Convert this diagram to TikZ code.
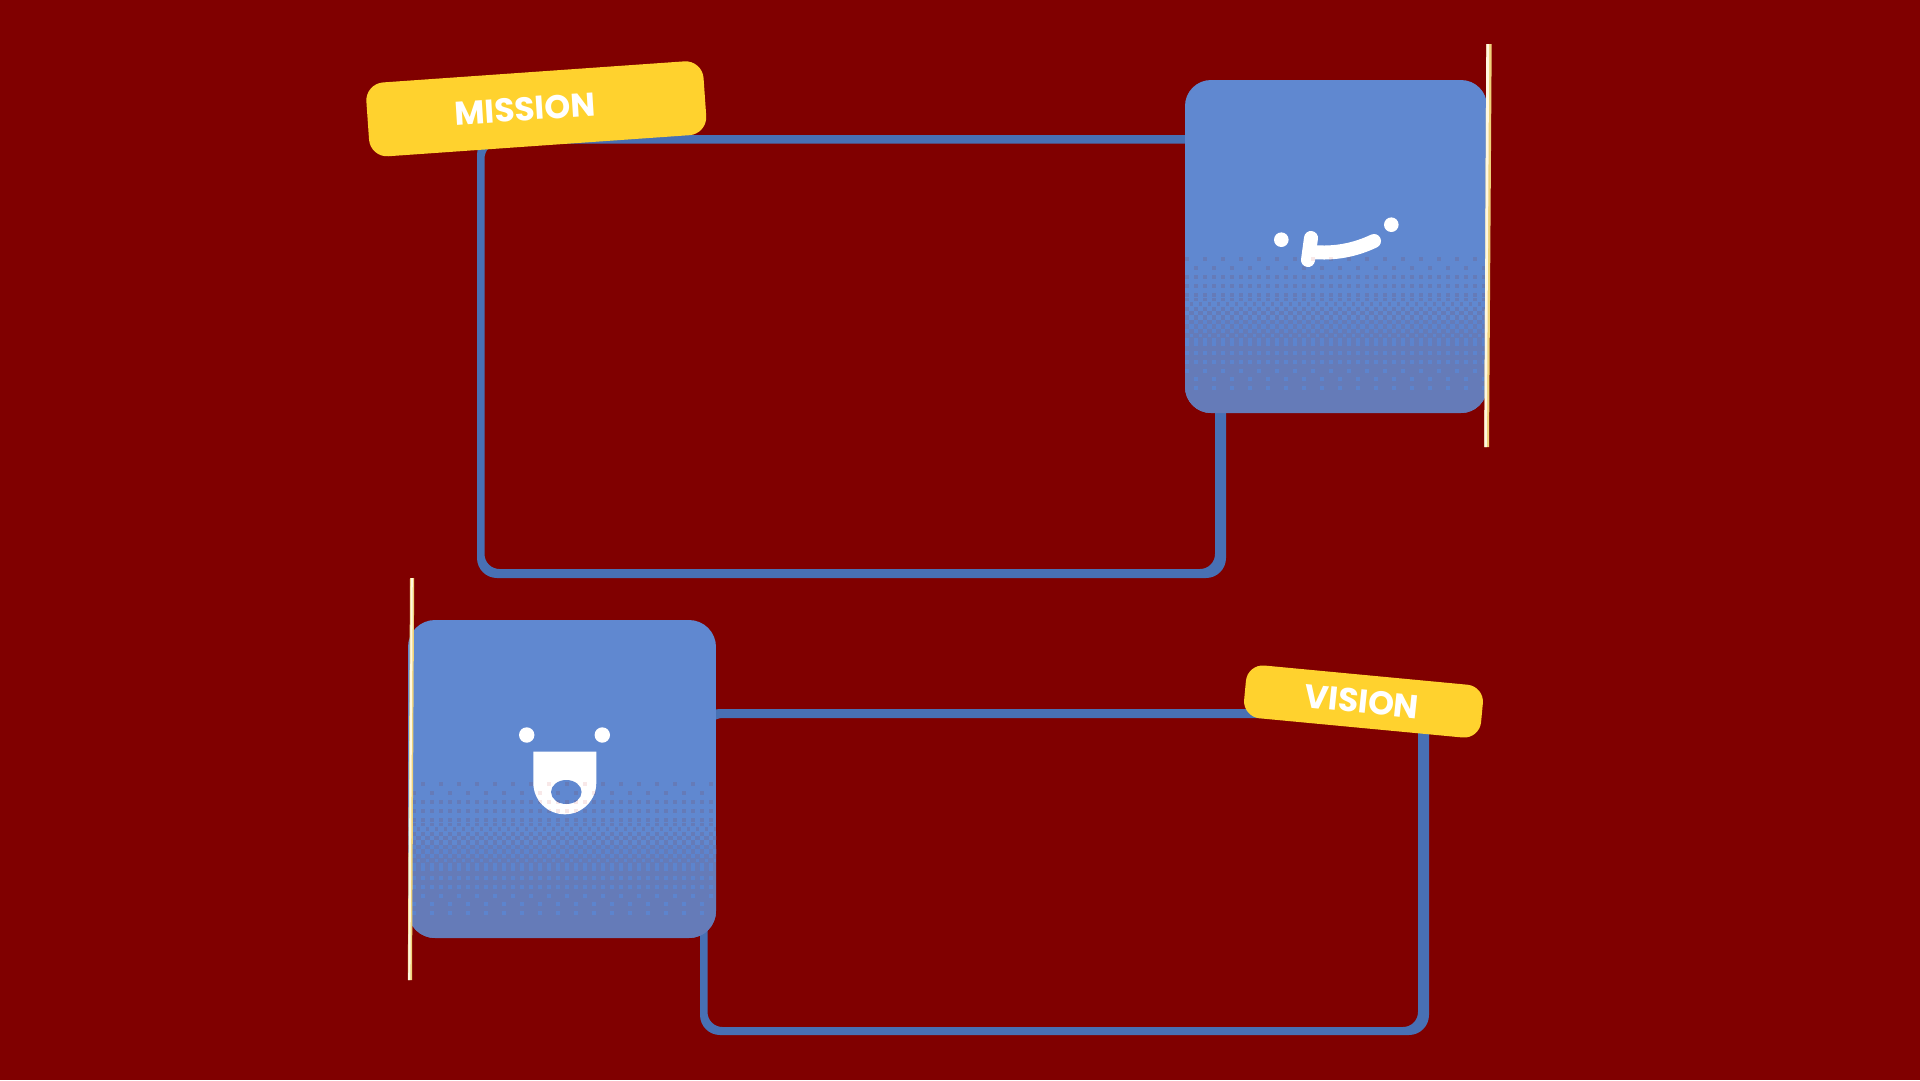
\documentclass[tikz,border=0pt]{standalone}
\usepackage{fontspec}
\setmainfont{Poppins}
\definecolor{bgred}{HTML}{800000}
\definecolor{framecol}{HTML}{4870B4}
\definecolor{lightb}{HTML}{6088D0}
\definecolor{darkb}{HTML}{657BB8}
\definecolor{litedot}{HTML}{5C84CE}
\definecolor{barcol}{HTML}{FFD22E}
\definecolor{facedot}{HTML}{F8E8E8}
\definecolor{lineg}{HTML}{EFD27A}
\definecolor{linew}{HTML}{FFF8E0}
\tikzset{
  frameshape/.style={fill=framecol,even odd rule},
  barshape/.style={fill=barcol,rounded corners=#1,inner sep=0pt,outer sep=0pt},
  barlabel/.style={text=white,font=\bfseries\fontsize{#1}{#1}\selectfont,inner sep=0pt},
  faceshape/.style={fill=white},
}
% sparse rows in the upper part of the halftone
\newcommand{\toprows}[3]{%
  \foreach \r/\st/\ph in {0/18/0,9/18/9,18/9/0,27/9/0,36/9/0}{%
    \foreach \i in {0,...,36}{%
      \fill[#3] ({#1+\ph+\st*\i-2},{#2+\r-2}) rectangle ({#1+\ph+\st*\i+2},{#2+\r+2});
    }%
  }%
}
\newcommand{\halftone}[2]{%
  \toprows{#1}{#2}{darkb}
  % chequered middle, dark dots growing on the light ground
  \foreach \j/\sz in {0/1.7,1/1.85,2/2.0,3/2.15,4/2.25}{%
    \pgfmathsetmacro{\off}{mod(\j,2)*4.5}
    \foreach \i in {0,...,34}{%
      \fill[darkb] ({#1+\off+9*\i-\sz},{#2+40.5+4.5*\j-\sz}) rectangle ({#1+\off+9*\i+\sz},{#2+40.5+4.5*\j+\sz});
    }%
  }%
  % from here on the ground is dark
  \fill[darkb] ({#1-10},{#2+60.75}) rectangle ({#1+330},{#2+180});
  % chequered middle, light dots shrinking on the dark ground
  \foreach \j/\sz in {5/2.25,6/2.15,7/2.0,8/1.85,9/1.7}{%
    \pgfmathsetmacro{\off}{mod(\j+1,2)*4.5}
    \foreach \i in {0,...,34}{%
      \fill[litedot] ({#1+\off+9*\i-\sz},{#2+40.5+4.5*\j-\sz}) rectangle ({#1+\off+9*\i+\sz},{#2+40.5+4.5*\j+\sz});
    }%
  }%
  \foreach \r/\st/\ph in {85/9/0,94/9/0,103/9/0,112/18/0,120/18/9,129/18/9}{%
    \foreach \i in {0,...,36}{%
      \fill[litedot] ({#1+\ph+\st*\i-2},{#2+\r-2}) rectangle ({#1+\ph+\st*\i+2},{#2+\r+2});
    }%
  }%
}
\begin{document}
\begin{tikzpicture}[x=1pt,y=-1pt]
\useasboundingbox (0,0) rectangle (1920,1080);
\fill[bgred] (0,0) rectangle (1920,1080);

% frames
\fill[frameshape] [rounded corners=20pt] (477,135) rectangle (1226,578)
                  [rounded corners=15pt] (484.5,143.5) rectangle (1215,569);
\fill[frameshape] [rounded corners=20pt] (700,709) rectangle (1429,1035)
                  [rounded corners=15pt] (707.5,718) rectangle (1418,1027);

% upper card
\begin{scope}
  \clip[rounded corners=26pt] (1185,80) rectangle (1487,413);
  \fill[lightb] (1185,80) rectangle (1487,413);
  \halftone{1187}{259}
\end{scope}
\fill[faceshape] (1281.3,239.7) circle[radius=7.3];
\fill[faceshape] (1391.3,224.7) circle[radius=7.3];
\draw[white,line width=14pt,line cap=round] (1311,238) -- (1308,260);
\draw[white,line width=14pt,line cap=round] (1312,252) .. controls (1335,254) and (1355,250) .. (1374,241);
\fill[facedot] (1311,257) rectangle (1315,261);
\fill[facedot] (1329,256.5) rectangle (1333,258.5);
% upper gold line
\fill[lineg] (1486.3,44) -- (1491.7,44) -- (1489,447) -- (1484.3,447) -- cycle;
\fill[linew] (1486.3,44) -- (1489.2,44) -- (1486.8,447) -- (1484.3,447) -- cycle;

% lower card
\begin{scope}
  \clip[rounded corners=27pt] (408,620) rectangle (716,938);
  \fill[lightb] (408,620) rectangle (716,938);
  \halftone{405}{784}
\end{scope}
\fill[faceshape] (526.7,735) circle[radius=7.7];
\fill[faceshape] (602.3,735) circle[radius=7.7];
\fill[faceshape] (533.3,751.7) -- (596.3,751.7) -- (596.3,782.8)
   arc[start angle=0,end angle=180,radius=31.5] -- cycle;
\begin{scope}
  \clip (533.3,751.7) -- (596.3,751.7) -- (596.3,782.8)
   arc[start angle=0,end angle=180,radius=31.5] -- cycle;
  \toprows{423}{784}{facedot}
\end{scope}
\begin{scope}
  \clip (566.3,792) ellipse[x radius=15.3,y radius=12];
  \fill[lightb] (540,770) rectangle (590,810);
  \toprows{423}{784}{darkb}
\end{scope}
% lower gold line
\fill[lineg] (410,578) -- (414.2,578) -- (412,980) -- (407.8,980) -- cycle;
\fill[linew] (410.8,578) -- (412.8,578) -- (410.4,980) -- (408.2,980) -- cycle;

% label bars
\node[barshape=18pt,minimum width=338pt,minimum height=74pt,rotate=4] (missionbar) at (536.3,108.8) {};
\node[barlabel=33,rotate=3.6] (missionlabel) at (525,109) {MISSION};

\node[barshape=17pt,minimum width=238pt,minimum height=53pt,rotate=-5.4] (visionbar) at (1363.5,701.5) {};
\node[barlabel=33,rotate=-6] (visionlabel) at (1361.7,701.7) {VISION};
\end{tikzpicture}
\end{document}
